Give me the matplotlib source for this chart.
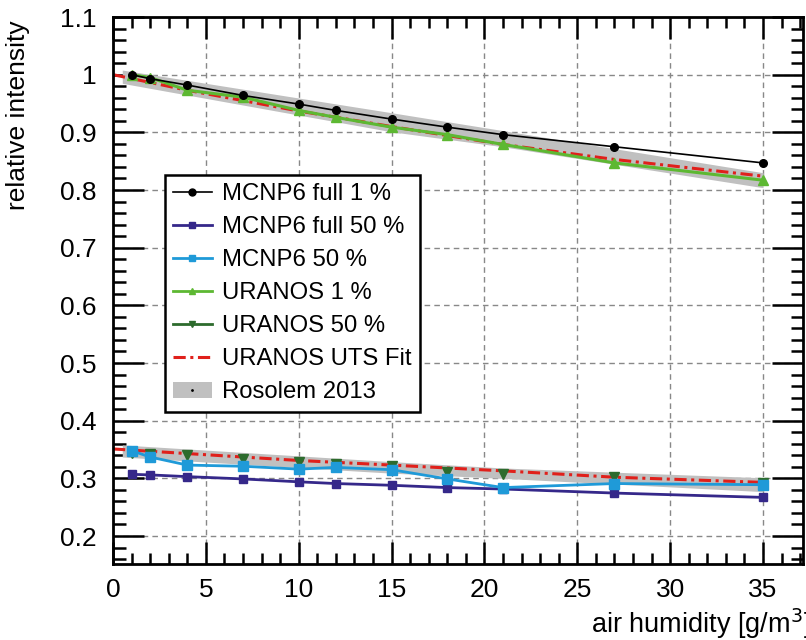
import matplotlib
matplotlib.use("Agg")
import matplotlib.pyplot as plt
import numpy as np
from matplotlib.patches import Patch
from matplotlib.lines import Line2D
from matplotlib.ticker import MultipleLocator, FuncFormatter

plt.rcParams['font.family'] = ['Liberation Sans', 'DejaVu Sans']

x = [1, 2, 4, 7, 10, 12, 15, 18, 21, 27, 35]
mcnp_full_1 = [1.000, 0.993, 0.982, 0.964, 0.949, 0.938, 0.923, 0.909, 0.896, 0.875, 0.847]
mcnp_full_50 = [0.307, 0.306, 0.303, 0.299, 0.294, 0.291, 0.288, 0.284, 0.2815, 0.2745, 0.267]
mcnp_50 = [0.348, 0.337, 0.323, 0.321, 0.316, 0.319, 0.315, 0.299, 0.284, 0.291, 0.289]
uranos_1 = [1.000, 0.995, 0.973, 0.961, 0.938, 0.926, 0.909, 0.896, 0.879, 0.847, 0.817]
uranos_50 = [0.344, 0.343, 0.341, 0.333, 0.328, 0.325, 0.321, 0.311, 0.308, 0.302, 0.292]

fit_x = [0, 4, 10, 15, 21, 27, 35]
fit_1 = [1.000, 0.973, 0.937, 0.910, 0.879, 0.853, 0.824]
fit_50 = [0.351, 0.343, 0.331, 0.323, 0.313, 0.302, 0.293]

ros_x = [0.5, 15, 21, 35]
ros_1_lo = [0.985, 0.901, 0.875, 0.804]
ros_1_hi = [1.008, 0.934, 0.903, 0.830]
ros_50_lo = [0.337, 0.309, 0.300, 0.277]
ros_50_hi = [0.358, 0.329, 0.318, 0.301]

fig = plt.figure(figsize=(8.06, 6.4), dpi=100)
ax = fig.add_axes([113/806, 1-564/640, 690/806, 547/640])

grey = '#c0c0c0'
ax.fill_between(ros_x, ros_1_lo, ros_1_hi, color=grey, lw=0, zorder=1)
ax.fill_between(ros_x, ros_50_lo, ros_50_hi, color=grey, lw=0, zorder=1)

c_black = '#000000'
c_indigo = '#35288a'
c_light = '#1f9ad8'
c_green = '#5db832'
c_dgreen = '#2d6b2d'
c_red = '#e0201b'
dashdot = (0, (4, 1.5, 1, 1.5))

ax.plot(x, mcnp_full_1, color=c_black, lw=1.2, marker='o', ms=5.5, zorder=4)
ax.plot(x, mcnp_full_50, color=c_indigo, lw=2, marker='s', ms=6, zorder=4)
ax.plot(x, mcnp_50, color=c_light, lw=2, marker='s', ms=6.5, zorder=4)
ax.plot(x, uranos_1, color=c_green, lw=2.2, marker='^', ms=7, zorder=3)
ax.plot(x, uranos_50, color=c_dgreen, lw=0, marker='v', ms=7, zorder=3)
ax.plot(fit_x, fit_1, color=c_red, lw=2.2, ls=dashdot, zorder=2)
ax.plot(fit_x, fit_50, color=c_red, lw=2.2, ls=dashdot, zorder=2)

ax.set_xlim(0, 37.15)
ax.set_ylim(0.1515, 1.1)
ax.xaxis.set_major_locator(MultipleLocator(5))
ax.xaxis.set_minor_locator(MultipleLocator(1))
ax.yaxis.set_major_locator(MultipleLocator(0.1))
ax.yaxis.set_minor_locator(MultipleLocator(0.02))

def yfmt(v, pos):
    s = f"{v:.1f}"
    return "1" if s == "1.0" else s
ax.yaxis.set_major_formatter(FuncFormatter(yfmt))

ax.grid(True, which='major', ls=(0, (4, 3)), color='#888888', lw=1)
ax.set_axisbelow(True)
ax.tick_params(which='both', direction='in', top=True, right=True, width=1.8, labelsize=19)
ax.tick_params(axis='x', which='major', length=16, pad=10)
ax.tick_params(axis='x', which='minor', length=8)
ax.tick_params(axis='y', which='major', length=22, pad=12)
ax.tick_params(axis='y', which='minor', length=9)
for sp in ax.spines.values():
    sp.set_linewidth(2)

fig.text(18/806, 1-20/640, 'relative intensity', rotation=90, ha='center', va='top', fontsize=19)
fig.text(591/806, 1-633/640, 'air humidity [g/m$^3$]', ha='left', va='baseline', fontsize=19.5)

handles = [
    Line2D([], [], color=c_black, lw=1.2, marker='o', ms=5),
    Line2D([], [], color=c_indigo, lw=2, marker='s', ms=5),
    Line2D([], [], color=c_light, lw=2, marker='s', ms=5),
    Line2D([], [], color=c_green, lw=2, marker='^', ms=5),
    Line2D([], [], color=c_dgreen, lw=2, marker='v', ms=5),
    Line2D([], [], color=c_red, lw=2.2, ls=dashdot),
    (Patch(facecolor=grey, edgecolor='none'), Line2D([], [], color='k', lw=0, marker='.', ms=2)),
]
labels = ['MCNP6 full 1 %', 'MCNP6 full 50 %', 'MCNP6 50 %', 'URANOS 1 %',
          'URANOS 50 %', 'URANOS UTS Fit', 'Rosolem 2013']
leg = ax.legend(handles, labels, loc='upper left', bbox_to_anchor=(165/806, 1-175/640),
                bbox_transform=fig.transFigure, fontsize=17.2, frameon=True, fancybox=False,
                edgecolor='black', framealpha=1, handlelength=1.6, handletextpad=0.45,
                labelspacing=0.46, borderpad=0.35, borderaxespad=0)
leg.get_frame().set_linewidth(1.8)

fig.savefig('out.png', dpi=100)
